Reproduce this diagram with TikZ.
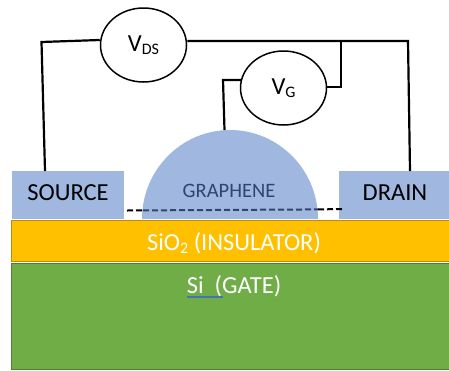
\documentclass[tikz,border=0pt]{standalone}
\usepackage{fontspec}
\setmainfont{Carlito}
\usetikzlibrary{shapes.geometric}
\definecolor{contact}{HTML}{A0B8E0}
\definecolor{oxide}{HTML}{FFC000}
\definecolor{oxideline}{HTML}{BC8C10}
\definecolor{gate}{HTML}{70AD47}
\definecolor{gateline}{HTML}{507E32}
\definecolor{navy}{HTML}{2F4470}
\definecolor{squiggle}{HTML}{3F74B5}
\newcommand{\bigtext}{\fontsize{24.5}{26}\selectfont}
\newcommand{\smalltext}{\fontsize{16}{18}\selectfont}
\tikzset{
  wire/.style={draw=black,line width=2.2pt,line join=miter},
  meter/.style={draw=black,line width=1.5pt,fill=white,ellipse,inner sep=0pt,minimum width=86pt,minimum height=74pt},
  pad/.style={fill=contact,inner sep=0pt,minimum height=48pt,font=\bigtext,text height=15.5pt,text depth=5pt},
  layer/.style={line width=1.4pt,inner sep=0pt,anchor=north west,minimum width=445pt},
  dashline/.style={line width=2pt,dash pattern=on 6pt off 3pt}
}
\begin{document}
\begin{tikzpicture}[x=1pt,y=-1pt]
      \useasboundingbox (0,0) rectangle (449,370);

      \node[pad,minimum width=112pt] (source) at (68,195) {SOURCE};
      \node[pad,minimum width=112pt] (drain) at (395,195) {DRAIN};
      \fill[contact] (142,219) arc[start angle=180,end angle=0,x radius=88pt,y radius=89pt] -- cycle;
      \node[font=\fontsize{20.5}{22}\selectfont,text=navy] (graphene) at (229,191) {GRAPHENE};
      \coordinate (gtop) at (224.5,130);

      \node[layer,draw=oxideline,fill=oxide,minimum height=41pt] (sio) at (10.5,220) {};
      \node[font=\bigtext,text=white] (siolabel) at (234,243) {SiO\raisebox{-3pt}{\smalltext 2} (INSULATOR)};
      \node[layer,draw=gateline,fill=gate,minimum height=106pt] (si) at (10.5,263) {};
      \node[font=\bigtext,text=white] (silabel) at (234,286) {Si\ \ (GATE)};
      \coordinate (sia) at (187,297);
      \coordinate (sib) at (223,297);
      \draw[squiggle,line width=2.4pt] (sia) -- (sib);

      \node[meter] (vds) at (143.5,45) {\bigtext V\raisebox{-3pt}{\smalltext DS}};
      \node[meter] (vg) at (283.5,88) {\bigtext V\raisebox{-3pt}{\smalltext G}};

      \coordinate (a) at (41.5,42);
      \coordinate (b) at (408,41);
      \coordinate (c) at (341,41);
      \coordinate (d) at (341,87);
      \coordinate (e) at (223,80);
      \coordinate (f) at (241,80);
      \coordinate (s) at (45,171);
      \coordinate (t) at (410,171);

      \draw[wire] (vds.west |- 0,40) -- (a) -- (s);
      \draw[wire] (vds.east |- 0,41) -- (b) -- (t);
      \draw[wire] (c) -- (d) -- (vg.east |- 0,87);
      \draw[wire] (f) -- (e) -- (gtop);

      \coordinate (dl) at (127,210.5);
      \coordinate (dm) at (143,210.4);
      \coordinate (dn) at (318,209.4);
      \coordinate (dr) at (344,209);
      \draw[black,dashline] (dl) -- (dm);
      \draw[navy,dashline] (dm) -- (dn);
      \draw[black,dashline] (dn) -- (dr);
    \end{tikzpicture}
\end{document}
